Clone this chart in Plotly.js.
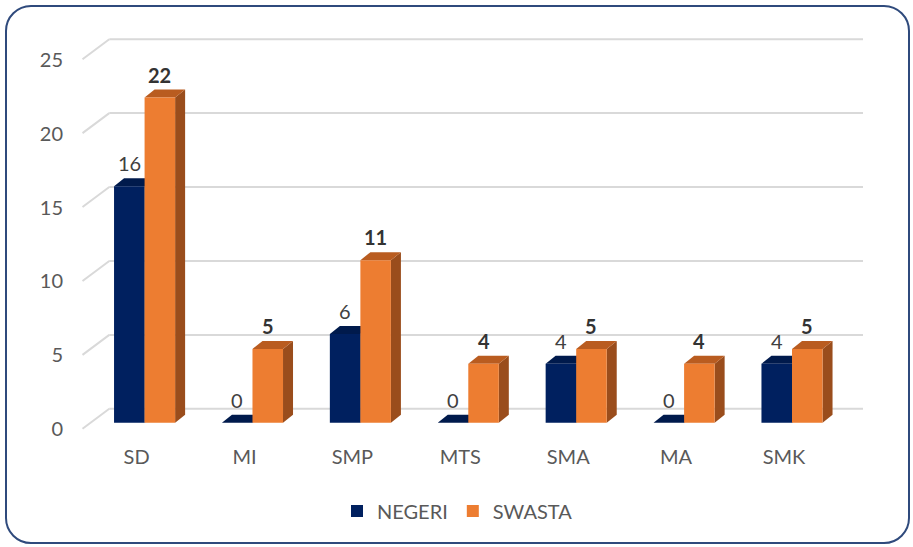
<!DOCTYPE html>
<html><head><meta charset="utf-8">
<script src="https://cdn.plot.ly/plotly-3.0.1.min.js"></script>
<style>
html,body{margin:0;padding:0;background:#fff;}
#frame{position:absolute;left:5px;top:5px;width:905px;height:539px;box-sizing:border-box;border:2.5px solid #2f4a7c;border-radius:26px;}
#chart{position:absolute;left:0;top:0;width:913px;height:547px;}
</style></head><body>
<div id="frame"></div>
<div id="chart"></div>
<script>
const categories = ['SD','MI','SMP','MTS','SMA','MA','SMK'];
const negeri = [16,0,6,0,4,0,4];
const swasta = [22,5,11,4,5,4,5];
const yTicks = [0,5,10,15,20,25];
const seriesNames = ['NEGERI','SWASTA'];

const FONT = 'Lato, "Open Sans", sans-serif';
const W = 913, H = 547;
const M = {l:78, r:50, t:31, b:102, pad:0};
const xRange = [-0.617, 6.658];
const yRange = [-1.5, 26.5];
const plotW = W - M.l - M.r, plotH = H - M.t - M.b;
const pxX = plotW / (xRange[1]-xRange[0]);
const pxY = plotH / (yRange[1]-yRange[0]);
const barW = 0.283;
const dx = 10, dy = 8;
const wpx = barW * pxX;
const labelDrop = 6.5 / pxY; // tick labels sit slightly below the front value level

const xs = categories.map((c,i)=>i);

const shapes = [];
// back-wall gridlines
yTicks.forEach(t=>{
  shapes.push({type:'line', layer:'below', xref:'paper', yref:'y', ysizemode:'pixel', yanchor:t,
    x0:(109.3-M.l)/plotW, x1:1, y0:14, y1:14, line:{color:'#d9d9d9', width:2}});
  shapes.push({type:'line', layer:'below', xref:'paper', yref:'y', ysizemode:'pixel', yanchor:t,
    x0:(82.5-M.l)/plotW, x1:(109.3-M.l)/plotW, y0:-6, y1:14, line:{color:'#d9d9d9', width:2}});
});
function topFace(xa, ya, color){
  return {type:'path', layer:'below', xref:'x', yref:'y', xsizemode:'pixel', ysizemode:'pixel',
    xanchor:xa, yanchor:ya, path:`M0,0 L${wpx},0 L${wpx+dx},${dy} L${dx},${dy} Z`,
    fillcolor:color, line:{width:0}};
}
function sideFace(xa, v, color){
  const h = v*pxY;
  return {type:'path', layer:'below', xref:'x', yref:'y', xsizemode:'pixel', ysizemode:'pixel',
    xanchor:xa, yanchor:0, path:`M0,0 L${dx},${dy} L${dx},${h+dy} L0,${h} Z`,
    fillcolor:color, line:{width:0}};
}
xs.forEach((x,i)=>{
  shapes.push(sideFace(x, negeri[i], '#00163f'));
  shapes.push(topFace(x-barW, negeri[i], '#001a4c'));
  shapes.push(sideFace(x+barW, swasta[i], '#9a4d1c'));
  shapes.push(topFace(x, swasta[i], '#b95c20'));
});

const annotations = [];
xs.forEach((x,i)=>{
  annotations.push({x:x-barW/2, y:negeri[i], xref:'x', yref:'y', text:String(negeri[i]), showarrow:false,
    yanchor:'middle', yshift:23, font:{family:FONT, size:20, color:'#404040'}});
  annotations.push({x:x+barW/2, y:swasta[i], xref:'x', yref:'y', text:'<b>'+swasta[i]+'</b>', showarrow:false,
    yanchor:'middle', yshift:23, font:{family:FONT, size:20, color:'#333333'}});
});

const traces = [
  {type:'bar', name:seriesNames[0], x:xs, y:negeri, width:barW, offset:-barW,
   marker:{color:'#00205f', line:{width:0}}, hoverinfo:'skip'},
  {type:'bar', name:seriesNames[1], x:xs, y:swasta, width:barW, offset:0,
   marker:{color:'#ed7d31', line:{width:0}}, hoverinfo:'skip'}
];

const layout = {
  width:W, height:H, margin:M,
  paper_bgcolor:'rgba(0,0,0,0)', plot_bgcolor:'rgba(0,0,0,0)',
  font:{family:FONT, size:20, color:'#595959'},
  barmode:'group',
  showlegend:true,
  legend:{orientation:'h', x:(457.5-M.l)/plotW, xanchor:'center', y:(H-M.b-511)/plotH, yanchor:'middle',
    font:{family:FONT, size:20, color:'#595959'}, itemwidth:30, bgcolor:'rgba(0,0,0,0)'},
  xaxis:{range:xRange, tickvals:xs, ticktext:categories, showgrid:false, zeroline:false, showline:false,
    ticks:'', ticklabelshift:-8, ticklabelstandoff:-2, tickfont:{family:FONT, size:20, color:'#595959'}},
  yaxis:{range:yRange, tickvals:yTicks.map(t=>t-labelDrop), ticktext:yTicks.map(String),
    showgrid:false, zeroline:false, showline:false,
    ticks:'', ticklabelstandoff:14, tickfont:{family:FONT, size:20, color:'#595959'}},
  shapes:shapes, annotations:annotations
};
Plotly.newPlot('chart', traces, layout, {staticPlot:true, displayModeBar:false});
</script>
</body></html>
